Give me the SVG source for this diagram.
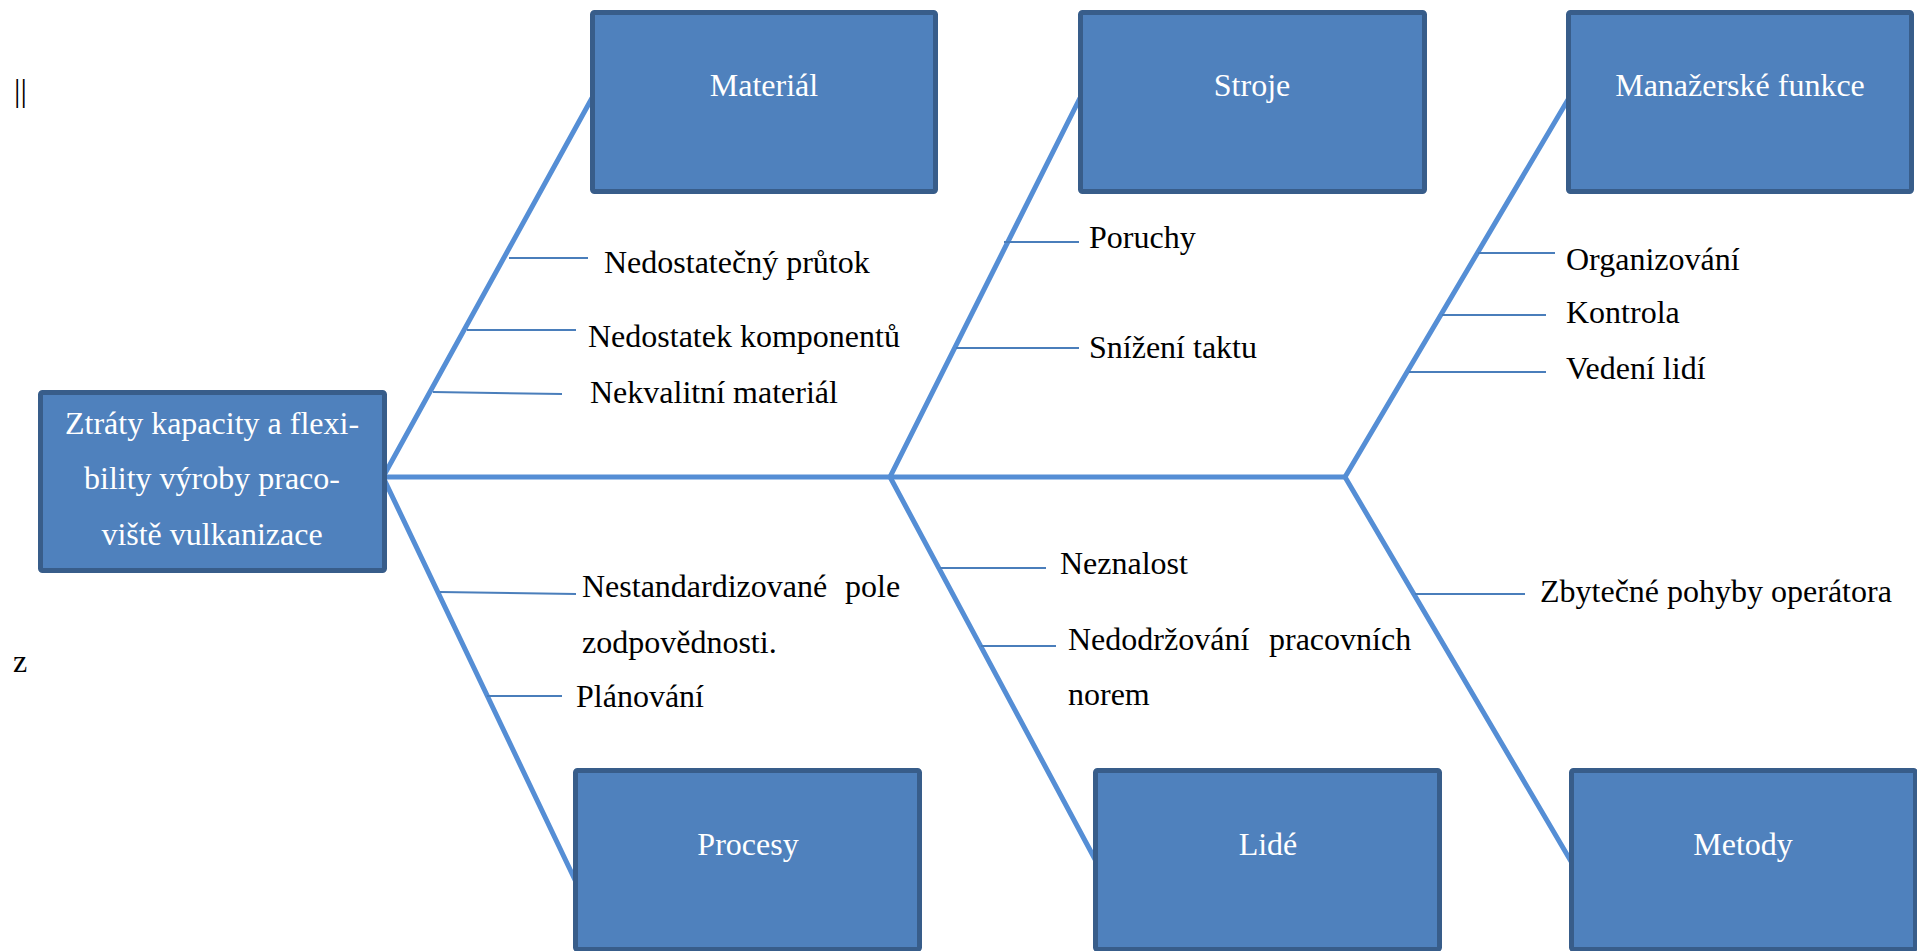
<svg xmlns="http://www.w3.org/2000/svg" width="1917" height="951" viewBox="0 0 1917 951">
  <style>
    .box { fill: #4F81BD; stroke: #385D8A; stroke-width: 5; }
    .title { font-family: "Liberation Serif", "Times New Roman", serif; font-size: 32px; fill: #FFFFFF; text-anchor: middle; }
    .label { font-family: "Liberation Serif", "Times New Roman", serif; font-size: 32px; fill: #000000; }
    .bone { stroke: #558ED5; stroke-width: 5; fill: none; stroke-linejoin: miter; }
    .rib { stroke: #4A7EBB; stroke-width: 2; fill: none; }
  </style>
  <rect width="1917" height="951" fill="#FFFFFF"/>

  <!-- stray marks at the left margin -->
  <text class="label" x="14" y="101">||</text>
  <text class="label" x="13" y="672">z</text>

  <!-- fishbone skeleton and cause ribs -->
  <g id="connectors">
    <polyline class="bone" points="592,98 383,477 576,882"/>
    <polyline class="bone" points="1080,98 890,477 1097,863"/>
    <polyline class="bone" points="1569,98 1345,477 1572,863"/>
    <line class="bone" x1="383" y1="477" x2="1345" y2="477"/>

    <line class="rib" x1="509" y1="258" x2="588" y2="258"/>
    <line class="rib" x1="467" y1="330" x2="576" y2="330"/>
    <line class="rib" x1="433" y1="392" x2="562" y2="394"/>

    <line class="rib" x1="1004" y1="242" x2="1079" y2="242"/>
    <line class="rib" x1="956" y1="348" x2="1079" y2="348"/>

    <line class="rib" x1="1478" y1="253" x2="1555" y2="253"/>
    <line class="rib" x1="1442" y1="315" x2="1546" y2="315"/>
    <line class="rib" x1="1409" y1="372" x2="1546" y2="372"/>

    <line class="rib" x1="440" y1="592" x2="576" y2="594"/>
    <line class="rib" x1="487" y1="696" x2="562" y2="696"/>

    <line class="rib" x1="940" y1="568" x2="1046" y2="568"/>
    <line class="rib" x1="981" y1="646" x2="1056" y2="646"/>

    <line class="rib" x1="1415" y1="594" x2="1525" y2="594"/>
  </g>

  <!-- effect (fish head) -->
  <g id="effect">
    <rect class="box" x="40.5" y="392.5" width="344" height="178" rx="2"/>
    <text class="title" x="212" y="434">Ztráty kapacity a flexi-</text>
    <text class="title" x="212" y="489">bility výroby praco-</text>
    <text class="title" x="212" y="545">viště vulkanizace</text>
  </g>

  <!-- cause categories -->
  <g id="material">
    <rect class="box" x="592.5" y="12.5" width="343" height="179" rx="2"/>
    <text class="title" x="764" y="96">Materiál</text>
  </g>
  <g id="stroje">
    <rect class="box" x="1080.5" y="12.5" width="344" height="179" rx="2"/>
    <text class="title" x="1252" y="96">Stroje</text>
  </g>
  <g id="manazerske-funkce">
    <rect class="box" x="1568.5" y="12.5" width="343" height="179" rx="2"/>
    <text class="title" x="1740" y="96">Manažerské funkce</text>
  </g>
  <g id="procesy">
    <rect class="box" x="575.5" y="770.5" width="344" height="179" rx="2"/>
    <text class="title" x="748" y="855">Procesy</text>
  </g>
  <g id="lide">
    <rect class="box" x="1095.5" y="770.5" width="344" height="179" rx="2"/>
    <text class="title" x="1268" y="855">Lidé</text>
  </g>
  <g id="metody">
    <rect class="box" x="1571.5" y="770.5" width="344" height="179" rx="2"/>
    <text class="title" x="1743" y="855">Metody</text>
  </g>

  <!-- cause labels -->
  <g id="labels">
    <text class="label" x="604" y="273">Nedostatečný průtok</text>
    <text class="label" x="588" y="347">Nedostatek komponentů</text>
    <text class="label" x="590" y="403">Nekvalitní materiál</text>

    <text class="label" x="1089" y="248">Poruchy</text>
    <text class="label" x="1089" y="358">Snížení taktu</text>

    <text class="label" x="1566" y="270">Organizování</text>
    <text class="label" x="1566" y="323">Kontrola</text>
    <text class="label" x="1566" y="379">Vedení lidí</text>

    <text class="label" y="597"><tspan x="582">Nestandardizované</tspan><tspan x="845">pole</tspan></text>
    <text class="label" x="582" y="653">zodpovědnosti.</text>
    <text class="label" x="576" y="707">Plánování</text>

    <text class="label" x="1060" y="574">Neznalost</text>
    <text class="label" y="650"><tspan x="1068">Nedodržování</tspan><tspan x="1269">pracovních</tspan></text>
    <text class="label" x="1068" y="705">norem</text>

    <text class="label" x="1540" y="602">Zbytečné pohyby operátora</text>
  </g>
</svg>
